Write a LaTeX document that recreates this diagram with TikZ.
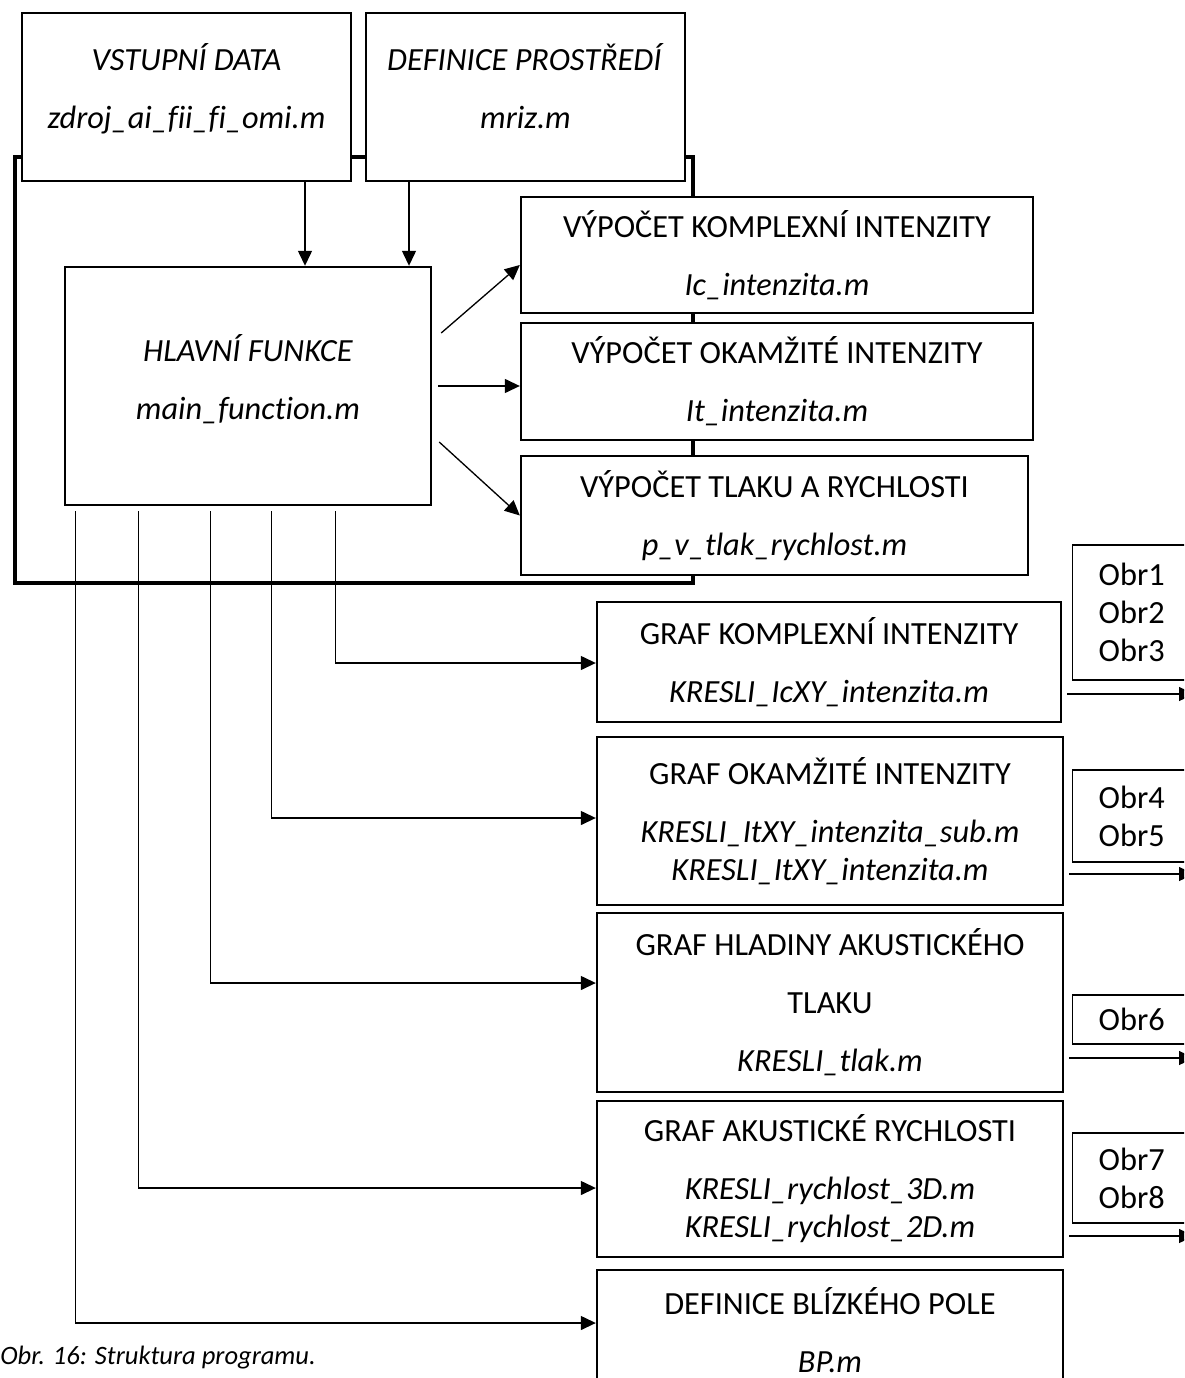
\documentclass[tikz,border=0pt]{standalone}
\usepackage{fontspec}
\setmainfont{Carlito}[Ligatures=NoCommon]
\usetikzlibrary{arrows.meta, calc}
\tikzset{
  blok/.style={draw, line width=1.4pt, fill=white, align=center, inner sep=0pt,
    font=\fontsize{18.4}{21.6}\selectfont},
  obrbox/.style={draw, line width=0.7pt, fill=white, anchor=west, align=left,
    inner xsep=0.52cm, inner ysep=0pt, text width=1.6cm,
    font=\fontsize{18.4}{21.6}\selectfont},
  spoj/.style={line width=0.75pt, -{Triangle[length=0.3cm, width=0.28cm]}},
}
\newcommand{\mez}{\\[11.4pt]}

\begin{document}
\begin{tikzpicture}[x=0.02cm, y=-0.02cm]
  \clip (0,0) rectangle (1184,1378);
  \fill[white] (0,0) rectangle (1184,1378);
  \draw[line width=2pt] (15,157) rectangle (693,583);

  \node[blok, minimum width=6.58cm, minimum height=3.36cm, text depth=13pt] at (186.5,97)(inp){%
    \textit{VSTUPNÍ DATA}\mez\textit{zdroj\_ai\_fii\_fi\_omi.m}};
  \node[blok, minimum width=6.38cm, minimum height=3.36cm, text depth=13pt] at (525.5,97)(env){%
    \textit{DEFINICE PROSTŘEDÍ}\mez\textit{mriz.m}};
  \node[blok, minimum width=7.32cm, minimum height=4.76cm, text depth=10pt] at (248,386)(main){%
    \textit{HLAVNÍ FUNKCE}\mez\textit{main\_function.m}};

  \node[blok, minimum width=10.24cm, minimum height=2.32cm] at (777,255)(vk){%
    VÝPOČET KOMPLEXNÍ INTENZITY\mez\textit{Ic\_intenzita.m}};
  \node[blok, minimum width=10.24cm, minimum height=2.34cm] at (777,381.5)(vo){%
    VÝPOČET OKAMŽITÉ INTENZITY\mez\textit{It\_intenzita.m}};
  \node[blok, minimum width=10.14cm, minimum height=2.38cm] at (774.5,515.5)(vt){%
    VÝPOČET TLAKU A RYCHLOSTI\mez\textit{p\_v\_tlak\_rychlost.m}};

  \node[blok, minimum width=9.28cm, minimum height=2.4cm] at (829,662)(gk){%
    GRAF KOMPLEXNÍ INTENZITY\mez\textit{KRESLI\_IcXY\_intenzita.m}};
  \node[blok, minimum width=9.32cm, minimum height=3.36cm] at (830,821)(go){%
    GRAF OKAMŽITÉ INTENZITY\mez\textit{KRESLI\_ItXY\_intenzita\_sub.m}\\
    \textit{KRESLI\_ItXY\_intenzita.m}};
  \node[blok, minimum width=9.32cm, minimum height=3.58cm] at (830,1002.5)(gh){%
    GRAF HLADINY AKUSTICKÉHO\mez TLAKU\mez\textit{KRESLI\_tlak.m}};
  \node[blok, minimum width=9.32cm, minimum height=3.12cm] at (830,1179)(gr){%
    GRAF AKUSTICKÉ RYCHLOSTI\mez\textit{KRESLI\_rychlost\_3D.m}\\
    \textit{KRESLI\_rychlost\_2D.m}};
  \node[blok, minimum width=9.32cm, minimum height=2.4cm] at (830,1330)(bp){%
    DEFINICE BLÍZKÉHO POLE\mez\textit{BP.m}};

  \node[obrbox, minimum height=2.7cm] at (1072,612.5)(ob1){Obr1\\Obr2\\Obr3};
  \node[obrbox, minimum height=1.84cm] at (1072,816)(ob2){Obr4\\Obr5};
  \node[obrbox, minimum height=0.98cm] at (1072,1019.5)(ob3){Obr6};
  \node[obrbox, minimum height=1.8cm] at (1072,1178)(ob4){Obr7\\Obr8};

  \node[anchor=base west, inner sep=0pt, font=\itshape\fontsize{15.1}{18}\selectfont]
    at (0,1364)(popis){Obr. 16: Struktura programu.};

  \draw[spoj] (inp.south -| 305,0) -- (main.north -| 305,0);
  \draw[spoj] (env.south -| 409,0) -- (main.north -| 409,0);

  \draw[spoj] ($(main.east)+(9,-53)$) -- ([yshift=-0.2cm]vk.west);
  \draw[spoj] ($(main.east)+(6,0)$) -- (vo.west |- main.east);
  \draw[spoj] ($(main.east)+(7,56)$) -- (vt.west);

  \foreach \x/\y/\cil in {337/663/gk, 273/818/go, 212/983/gh, 140/1188/gr, 77/1323/bp}
    \draw[spoj] ($(main.south west)+(\x-65,5)$) |- (\cil.west |- 0,\y);

  \foreach \y/\zdroj in {694/gk, 874/go, 1058/gh, 1236/gr}{
    \coordinate (out\zdroj) at (1194,\y);
    \draw[spoj] ([xshift=0.1cm]\zdroj.east |- out\zdroj) -- (out\zdroj);
  }
\end{tikzpicture}
\end{document}
